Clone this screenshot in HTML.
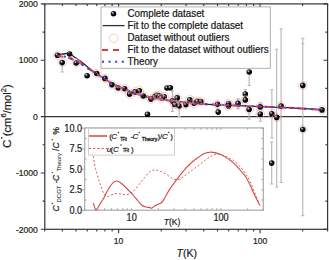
<!DOCTYPE html>
<html><head><meta charset="utf-8"><style>
html,body{margin:0;padding:0;background:#fff;}
svg{display:block;font-family:"Liberation Sans",sans-serif;}
text{font-family:"Liberation Sans",sans-serif;stroke:#222;stroke-width:0.2px;}
</style></head><body>
<svg width="329" height="260" viewBox="0 0 329 260">
<rect width="329" height="260" fill="#fff"/>
<line x1="44.8" y1="116.60" x2="327.6" y2="116.60" stroke="#363636" stroke-width="1.1"/>
<path d="M40.80,229.30H44.8M323.60,229.30H327.6M42.60,201.12H44.8M325.40,201.12H327.6M40.80,172.95H44.8M323.60,172.95H327.6M42.60,144.77H44.8M325.40,144.77H327.6M40.80,116.60H44.8M323.60,116.60H327.6M42.60,88.42H44.8M325.40,88.42H327.6M40.80,60.25H44.8M323.60,60.25H327.6M42.60,32.08H44.8M325.40,32.08H327.6M40.80,3.90H44.8M323.60,3.90H327.6M44.65,229.29999999999998V231.50M44.65,3.9000000000000057V6.10M62.33,229.29999999999998V231.50M62.33,3.9000000000000057V6.10M76.04,229.29999999999998V231.50M76.04,3.9000000000000057V6.10M87.24,229.29999999999998V231.50M87.24,3.9000000000000057V6.10M96.71,229.29999999999998V231.50M96.71,3.9000000000000057V6.10M104.91,229.29999999999998V231.50M104.91,3.9000000000000057V6.10M112.15,229.29999999999998V231.50M112.15,3.9000000000000057V6.10M118.62,229.29999999999998V233.30M118.62,3.9000000000000057V7.90M161.21,229.29999999999998V231.50M161.21,3.9000000000000057V6.10M186.12,229.29999999999998V231.50M186.12,3.9000000000000057V6.10M203.80,229.29999999999998V231.50M203.80,3.9000000000000057V6.10M217.51,229.29999999999998V231.50M217.51,3.9000000000000057V6.10M228.71,229.29999999999998V231.50M228.71,3.9000000000000057V6.10M238.18,229.29999999999998V231.50M238.18,3.9000000000000057V6.10M246.39,229.29999999999998V231.50M246.39,3.9000000000000057V6.10M253.63,229.29999999999998V231.50M253.63,3.9000000000000057V6.10M260.10,229.29999999999998V233.30M260.10,3.9000000000000057V7.90M302.69,229.29999999999998V231.50M302.69,3.9000000000000057V6.10M327.60,229.29999999999998V231.50M327.60,3.9000000000000057V6.10" stroke="#363636" stroke-width="1.1" fill="none"/>
<path d="M62.2,62.6V72.0M60.6,72.0h3.2M172.4,91.0V100.9M170.8,91.0h3.2M172.4,100.9V111.5M170.8,111.5h3.2M179.2,106.0V116.5M177.6,116.5h3.2M217.5,104.2V109.0M215.9,109.0h3.2M238.0,98.8V103.4M236.4,98.8h3.2M238.0,103.4V108.9M236.4,108.9h3.2M245.3,89.5V94.0M243.70000000000002,89.5h3.2M249.2,72.0V85.5M247.6,85.5h3.2M249.1,109.5V119.2M247.5,119.2h3.2M260.2,102.7V106.9M258.59999999999997,102.7h3.2M260.3,114.1V121.2M258.7,121.2h3.2M271.9,89.8V113.8M270.29999999999995,89.8h3.2M271.9,113.8V138.0M270.29999999999995,138.0h3.2M276.7,49.3V117.4M275.09999999999997,49.3h3.2M276.7,117.4V187.0M275.09999999999997,187.0h3.2M281.1,29.0V106.1M279.5,29.0h3.2M281.1,106.1V182.5M279.5,182.5h3.2M271.7,142.0V163.1M270.09999999999997,142.0h3.2M271.7,163.1V184.0M270.09999999999997,184.0h3.2M302.8,38.3V85.4M301.2,38.3h3.2M302.8,43.7V129.5M301.2,43.7h3.2M302.8,129.5V215.8M301.2,215.8h3.2" stroke="#b6b6b6" stroke-width="1.1" fill="none"/>
<defs><radialGradient id="g" cx="0.36" cy="0.34" r="0.62"><stop offset="0" stop-color="#f4f4f4"/><stop offset="0.22" stop-color="#777"/><stop offset="0.45" stop-color="#111"/><stop offset="1" stop-color="#000"/></radialGradient></defs>
<circle cx="57.5" cy="55.2" r="2.8" fill="url(#g)"/>
<circle cx="62.2" cy="62.6" r="2.8" fill="url(#g)"/>
<circle cx="69.6" cy="54.0" r="2.8" fill="url(#g)"/>
<circle cx="76.2" cy="63.0" r="2.8" fill="url(#g)"/>
<circle cx="87.1" cy="75.7" r="2.8" fill="url(#g)"/>
<circle cx="96.8" cy="73.5" r="2.8" fill="url(#g)"/>
<circle cx="104.9" cy="78.4" r="2.8" fill="url(#g)"/>
<circle cx="112.0" cy="84.8" r="2.8" fill="url(#g)"/>
<circle cx="118.2" cy="88.0" r="2.8" fill="url(#g)"/>
<circle cx="124.6" cy="88.7" r="2.8" fill="url(#g)"/>
<circle cx="129.6" cy="94.1" r="2.8" fill="url(#g)"/>
<circle cx="135.0" cy="91.9" r="2.8" fill="url(#g)"/>
<circle cx="139.4" cy="90.8" r="2.8" fill="url(#g)"/>
<circle cx="143.3" cy="96.0" r="2.8" fill="url(#g)"/>
<circle cx="151.0" cy="99.1" r="2.8" fill="url(#g)"/>
<circle cx="154.8" cy="96.6" r="2.8" fill="url(#g)"/>
<circle cx="157.0" cy="95.4" r="2.8" fill="url(#g)"/>
<circle cx="159.3" cy="95.8" r="2.8" fill="url(#g)"/>
<circle cx="161.4" cy="98.0" r="2.8" fill="url(#g)"/>
<circle cx="164.2" cy="96.7" r="2.8" fill="url(#g)"/>
<circle cx="147.5" cy="114.3" r="2.8" fill="url(#g)"/>
<circle cx="167.0" cy="88.0" r="2.8" fill="url(#g)"/>
<circle cx="170.3" cy="87.8" r="2.8" fill="url(#g)"/>
<circle cx="172.4" cy="100.9" r="2.8" fill="url(#g)"/>
<circle cx="177.2" cy="97.9" r="2.8" fill="url(#g)"/>
<circle cx="174.7" cy="104.4" r="2.8" fill="url(#g)"/>
<circle cx="179.2" cy="106.0" r="2.8" fill="url(#g)"/>
<circle cx="185.8" cy="104.7" r="2.8" fill="url(#g)"/>
<circle cx="189.8" cy="99.8" r="2.8" fill="url(#g)"/>
<circle cx="194.0" cy="103.2" r="2.8" fill="url(#g)"/>
<circle cx="197.2" cy="101.3" r="2.8" fill="url(#g)"/>
<circle cx="200.8" cy="101.5" r="2.8" fill="url(#g)"/>
<circle cx="217.5" cy="104.2" r="2.8" fill="url(#g)"/>
<circle cx="218.2" cy="112.1" r="2.8" fill="url(#g)"/>
<circle cx="228.6" cy="103.6" r="2.8" fill="url(#g)"/>
<circle cx="228.5" cy="105.9" r="2.8" fill="url(#g)"/>
<circle cx="238.0" cy="103.4" r="2.8" fill="url(#g)"/>
<circle cx="245.3" cy="94.0" r="2.8" fill="url(#g)"/>
<circle cx="245.3" cy="99.9" r="2.8" fill="url(#g)"/>
<circle cx="249.2" cy="72.0" r="2.8" fill="url(#g)"/>
<circle cx="249.1" cy="109.5" r="2.8" fill="url(#g)"/>
<circle cx="260.2" cy="106.9" r="2.8" fill="url(#g)"/>
<circle cx="260.3" cy="114.1" r="2.8" fill="url(#g)"/>
<circle cx="271.9" cy="113.8" r="2.8" fill="url(#g)"/>
<circle cx="276.7" cy="117.4" r="2.8" fill="url(#g)"/>
<circle cx="281.1" cy="106.1" r="2.8" fill="url(#g)"/>
<circle cx="271.7" cy="163.1" r="2.8" fill="url(#g)"/>
<circle cx="302.8" cy="85.4" r="2.8" fill="url(#g)"/>
<circle cx="302.8" cy="129.5" r="2.8" fill="url(#g)"/>
<circle cx="322.0" cy="109.9" r="2.8" fill="url(#g)"/>
<path d="M57.4,54.9C58.33,54.75 61.07,54.22 63,54.0C64.93,53.78 67.17,53.13 69,53.6C70.83,54.07 72.28,55.68 74,56.8C75.72,57.92 77.20,58.73 79.3,60.3C81.40,61.87 84.17,64.28 86.6,66.2C89.03,68.12 91.67,70.18 93.9,71.8C96.13,73.42 98.27,74.77 100,75.9C101.73,77.03 102.52,77.48 104.3,78.6C106.08,79.72 108.72,81.43 110.7,82.6C112.68,83.77 114.37,84.70 116.2,85.6C118.03,86.50 119.73,87.17 121.7,88.0C123.67,88.83 125.78,89.72 128,90.6C130.22,91.48 132.67,92.48 135,93.3C137.33,94.12 139.50,94.83 142,95.5C144.50,96.17 147.00,96.70 150,97.3C153.00,97.90 156.67,98.53 160,99.1C163.33,99.67 166.67,100.23 170,100.7C173.33,101.17 176.67,101.53 180,101.9C183.33,102.27 186.67,102.58 190,102.9C193.33,103.22 195.83,103.50 200,103.8C204.17,104.10 210.00,104.45 215,104.7C220.00,104.95 225.00,105.10 230,105.3C235.00,105.50 240.00,105.68 245,105.9C250.00,106.12 254.17,106.35 260,106.6C265.83,106.85 273.33,107.10 280,107.4C286.67,107.70 293.08,108.00 300,108.4C306.92,108.80 317.92,109.57 321.5,109.8" stroke="#222" stroke-width="1.3" fill="none"/>
<path d="M57.4,56.0C58.62,56.15 62.27,56.37 64.7,56.9C67.13,57.43 69.57,58.27 72,59.2C74.43,60.13 76.87,61.17 79.3,62.5C81.73,63.83 84.17,65.58 86.6,67.2C89.03,68.82 91.67,70.72 93.9,72.2C96.13,73.68 98.27,75.03 100,76.1C101.73,77.17 102.52,77.52 104.3,78.6C106.08,79.68 108.72,81.43 110.7,82.6C112.68,83.77 114.37,84.70 116.2,85.6C118.03,86.50 119.73,87.17 121.7,88.0C123.67,88.83 125.78,89.72 128,90.6C130.22,91.48 132.67,92.48 135,93.3C137.33,94.12 139.50,94.83 142,95.5C144.50,96.17 147.00,96.70 150,97.3C153.00,97.90 156.67,98.53 160,99.1C163.33,99.67 166.67,100.23 170,100.7C173.33,101.17 176.67,101.53 180,101.9C183.33,102.27 186.67,102.58 190,102.9C193.33,103.22 195.83,103.50 200,103.8C204.17,104.10 210.00,104.45 215,104.7C220.00,104.95 225.00,105.10 230,105.3C235.00,105.50 240.00,105.68 245,105.9C250.00,106.12 254.17,106.35 260,106.6C265.83,106.85 273.33,107.10 280,107.4C286.67,107.70 293.08,108.00 300,108.4C306.92,108.80 317.92,109.57 321.5,109.8" stroke="#dc3a3a" stroke-width="2" fill="none" stroke-dasharray="6 5"/>
<path d="M57.4,56.0C57.83,56.03 58.88,56.10 60,56.2C61.12,56.30 62.40,56.33 64.1,56.6C65.80,56.87 68.17,57.07 70.2,57.8C72.23,58.53 74.33,59.85 76.3,61C78.27,62.15 80.12,63.50 82,64.7C83.88,65.90 85.78,67.05 87.6,68.2C89.42,69.35 90.83,70.30 92.9,71.6C94.97,72.90 98.10,74.83 100,76.0C101.90,77.17 102.52,77.50 104.3,78.6C106.08,79.70 108.72,81.43 110.7,82.6C112.68,83.77 114.37,84.70 116.2,85.6C118.03,86.50 119.73,87.17 121.7,88.0C123.67,88.83 125.78,89.72 128,90.6C130.22,91.48 132.67,92.48 135,93.3C137.33,94.12 139.50,94.83 142,95.5C144.50,96.17 147.00,96.70 150,97.3C153.00,97.90 156.67,98.53 160,99.1C163.33,99.67 166.67,100.23 170,100.7C173.33,101.17 176.67,101.53 180,101.9C183.33,102.27 186.67,102.58 190,102.9C193.33,103.22 195.83,103.50 200,103.8C204.17,104.10 210.00,104.45 215,104.7C220.00,104.95 225.00,105.10 230,105.3C235.00,105.50 240.00,105.68 245,105.9C250.00,106.12 254.17,106.35 260,106.6C265.83,106.85 273.33,107.10 280,107.4C286.67,107.70 293.08,108.00 300,108.4C306.92,108.80 317.92,109.57 321.5,109.8" stroke="#3a3af0" stroke-width="2" fill="none" stroke-dasharray="2 4.6"/>
<circle cx="57.5" cy="55.2" r="4.25" fill="none" stroke="#efa4a4" stroke-width="0.55"/>
<circle cx="62.2" cy="62.6" r="4.25" fill="none" stroke="#efa4a4" stroke-width="0.55"/>
<circle cx="76.2" cy="63.0" r="4.25" fill="none" stroke="#efa4a4" stroke-width="0.55"/>
<circle cx="96.8" cy="73.5" r="4.25" fill="none" stroke="#efa4a4" stroke-width="0.55"/>
<circle cx="104.9" cy="78.4" r="4.25" fill="none" stroke="#efa4a4" stroke-width="0.55"/>
<circle cx="112.0" cy="84.8" r="4.25" fill="none" stroke="#efa4a4" stroke-width="0.55"/>
<circle cx="118.2" cy="88.0" r="4.25" fill="none" stroke="#efa4a4" stroke-width="0.55"/>
<circle cx="124.6" cy="88.7" r="4.25" fill="none" stroke="#efa4a4" stroke-width="0.55"/>
<circle cx="129.6" cy="94.1" r="4.25" fill="none" stroke="#efa4a4" stroke-width="0.55"/>
<circle cx="135.0" cy="91.9" r="4.25" fill="none" stroke="#efa4a4" stroke-width="0.55"/>
<circle cx="139.4" cy="90.8" r="4.25" fill="none" stroke="#efa4a4" stroke-width="0.55"/>
<circle cx="143.3" cy="96.0" r="4.25" fill="none" stroke="#efa4a4" stroke-width="0.55"/>
<circle cx="151.0" cy="99.1" r="4.25" fill="none" stroke="#efa4a4" stroke-width="0.55"/>
<circle cx="154.8" cy="96.6" r="4.25" fill="none" stroke="#efa4a4" stroke-width="0.55"/>
<circle cx="157.0" cy="95.4" r="4.25" fill="none" stroke="#efa4a4" stroke-width="0.55"/>
<circle cx="159.3" cy="95.8" r="4.25" fill="none" stroke="#efa4a4" stroke-width="0.55"/>
<circle cx="161.4" cy="98.0" r="4.25" fill="none" stroke="#efa4a4" stroke-width="0.55"/>
<circle cx="164.2" cy="96.7" r="4.25" fill="none" stroke="#efa4a4" stroke-width="0.55"/>
<circle cx="172.4" cy="100.9" r="4.25" fill="none" stroke="#efa4a4" stroke-width="0.55"/>
<circle cx="177.2" cy="97.9" r="4.25" fill="none" stroke="#efa4a4" stroke-width="0.55"/>
<circle cx="174.7" cy="104.4" r="4.25" fill="none" stroke="#efa4a4" stroke-width="0.55"/>
<circle cx="179.2" cy="106.0" r="4.25" fill="none" stroke="#efa4a4" stroke-width="0.55"/>
<circle cx="185.8" cy="104.7" r="4.25" fill="none" stroke="#efa4a4" stroke-width="0.55"/>
<circle cx="189.8" cy="99.8" r="4.25" fill="none" stroke="#efa4a4" stroke-width="0.55"/>
<circle cx="194.0" cy="103.2" r="4.25" fill="none" stroke="#efa4a4" stroke-width="0.55"/>
<circle cx="197.2" cy="101.3" r="4.25" fill="none" stroke="#efa4a4" stroke-width="0.55"/>
<circle cx="200.8" cy="101.5" r="4.25" fill="none" stroke="#efa4a4" stroke-width="0.55"/>
<circle cx="217.5" cy="104.2" r="4.25" fill="none" stroke="#efa4a4" stroke-width="0.55"/>
<circle cx="228.6" cy="103.6" r="4.25" fill="none" stroke="#efa4a4" stroke-width="0.55"/>
<circle cx="228.5" cy="105.9" r="4.25" fill="none" stroke="#efa4a4" stroke-width="0.55"/>
<circle cx="238.0" cy="103.4" r="4.25" fill="none" stroke="#efa4a4" stroke-width="0.55"/>
<circle cx="245.3" cy="99.9" r="4.25" fill="none" stroke="#efa4a4" stroke-width="0.55"/>
<circle cx="249.1" cy="109.5" r="4.25" fill="none" stroke="#efa4a4" stroke-width="0.55"/>
<circle cx="260.2" cy="106.9" r="4.25" fill="none" stroke="#efa4a4" stroke-width="0.55"/>
<circle cx="260.3" cy="114.1" r="4.25" fill="none" stroke="#efa4a4" stroke-width="0.55"/>
<circle cx="271.9" cy="113.8" r="4.25" fill="none" stroke="#efa4a4" stroke-width="0.55"/>
<circle cx="276.7" cy="117.4" r="4.25" fill="none" stroke="#efa4a4" stroke-width="0.55"/>
<circle cx="281.1" cy="106.1" r="4.25" fill="none" stroke="#efa4a4" stroke-width="0.55"/>
<circle cx="302.8" cy="85.4" r="4.25" fill="none" stroke="#efa4a4" stroke-width="0.55"/>
<circle cx="302.8" cy="129.5" r="4.25" fill="none" stroke="#efa4a4" stroke-width="0.55"/>
<circle cx="322.0" cy="109.9" r="4.25" fill="none" stroke="#efa4a4" stroke-width="0.55"/>
<rect x="44.8" y="3.9000000000000057" width="282.80" height="225.40" fill="none" stroke="#363636" stroke-width="1.2"/>
<text transform="translate(37.9,7.10) scale(1,1.16)" text-anchor="end" font-size="8.6" fill="#222">2000</text>
<text transform="translate(37.9,63.45) scale(1,1.16)" text-anchor="end" font-size="8.6" fill="#222">1000</text>
<text transform="translate(37.9,119.80) scale(1,1.16)" text-anchor="end" font-size="8.6" fill="#222">0</text>
<text transform="translate(37.9,176.15) scale(1,1.16)" text-anchor="end" font-size="8.6" fill="#222">-1000</text>
<text transform="translate(37.9,232.50) scale(1,1.16)" text-anchor="end" font-size="8.6" fill="#222">-2000</text>
<text transform="translate(118.62,243.6) scale(1,1.14)" text-anchor="middle" font-size="8.6" fill="#222">10</text>
<text transform="translate(260.10,243.6) scale(1,1.14)" text-anchor="middle" font-size="8.6" fill="#222">100</text>
<text x="176.6" y="256.5" font-size="10.5" fill="#222"><tspan font-style="italic">T</tspan>(K)</text>
<g transform="translate(10.8,147.8) rotate(-90)"><text x="-0.2" y="0" font-size="11.8" fill="#222">C</text><circle cx="9.9" cy="-9.1" r="0.8" fill="#222"/><text x="11.6" y="0" font-size="11.2" fill="#222">(cm<tspan font-size="7.5" dy="-4.5">6</tspan><tspan dy="4.5">/mol</tspan><tspan font-size="7.5" dy="-4.5">2</tspan><tspan dy="4.5">)</tspan></text></g>
<rect x="101" y="6.9" width="169.3" height="61.4" fill="#fff" stroke="#a8a8a8" stroke-width="0.9"/>
<circle cx="113.5" cy="13.8" r="2.75" fill="url(#g)"/>
<line x1="102.6" y1="25.6" x2="124.6" y2="25.6" stroke="#333" stroke-width="1.3"/>
<circle cx="113.7" cy="38.2" r="4.25" fill="none" stroke="#efa4a4" stroke-width="0.55"/>
<line x1="102" y1="50" x2="119.5" y2="50" stroke="#dc3a3a" stroke-width="2" stroke-dasharray="6 5"/>
<line x1="102" y1="61.8" x2="125" y2="61.8" stroke="#3a3af0" stroke-width="2" stroke-dasharray="2 4.6"/>
<text transform="translate(127.5,17.35) scale(1,1.09)" font-size="9.8" fill="#111">Complete dataset</text>
<text transform="translate(127.5,29.32) scale(1,1.09)" font-size="9.8" fill="#111">Fit to the complete dataset</text>
<text transform="translate(127.5,41.29) scale(1,1.09)" font-size="9.8" fill="#111">Dataset without outliers</text>
<text transform="translate(127.5,53.26) scale(1,1.09)" font-size="9.8" fill="#111">Fit to the dataset without outliers</text>
<text transform="translate(127.5,65.23) scale(1,1.09)" font-size="9.8" fill="#111">Theory</text>
<rect x="84.7" y="127.9" width="178.60" height="82.30" fill="#fff"/>
<path d="M81.70,210.30H84.7M261.30,210.30H263.3M84.7,200.04H86.70M261.30,200.04H263.3M81.70,189.78H84.7M261.30,189.78H263.3M84.7,179.51H86.70M261.30,179.51H263.3M81.70,169.25H84.7M261.30,169.25H263.3M84.7,158.99H86.70M261.30,158.99H263.3M81.70,148.73H84.7M261.30,148.73H263.3M84.7,138.46H86.70M261.30,138.46H263.3M81.70,128.20H84.7M261.30,128.20H263.3M84.70,210.2V208.20M84.70,127.9V129.90M95.86,210.2V208.20M95.86,127.9V129.90M104.52,210.2V208.20M104.52,127.9V129.90M111.60,210.2V208.20M111.60,127.9V129.90M117.58,210.2V208.20M117.58,127.9V129.90M122.76,210.2V208.20M122.76,127.9V129.90M127.33,210.2V208.20M127.33,127.9V129.90M131.42,210.2V208.20M131.42,127.9V129.90M158.32,210.2V208.20M158.32,127.9V129.90M174.05,210.2V208.20M174.05,127.9V129.90M185.21,210.2V208.20M185.21,127.9V129.90M193.87,210.2V208.20M193.87,127.9V129.90M200.95,210.2V208.20M200.95,127.9V129.90M206.93,210.2V208.20M206.93,127.9V129.90M212.11,210.2V208.20M212.11,127.9V129.90M216.68,210.2V208.20M216.68,127.9V129.90M220.77,210.2V208.20M220.77,127.9V129.90M247.67,210.2V208.20M247.67,127.9V129.90M263.40,210.2V208.20M263.40,127.9V129.90" stroke="#a2a2a2" stroke-width="0.9" fill="none"/>
<rect x="84.7" y="127.9" width="178.60" height="82.30" fill="none" stroke="#a2a2a2" stroke-width="1.1"/>
<path d="M93.3,203C93.75,204.13 94.88,209.63 96,209.8C97.12,209.97 98.75,205.88 100,204C101.25,202.12 102.42,200.40 103.5,198.5C104.58,196.60 105.47,194.52 106.5,192.6C107.53,190.68 108.63,188.62 109.7,187C110.77,185.38 111.82,183.90 112.9,182.9C113.98,181.90 115.12,181.15 116.2,181C117.28,180.85 118.33,181.42 119.4,182C120.47,182.58 121.38,183.42 122.6,184.5C123.82,185.58 125.35,187.17 126.7,188.5C128.05,189.83 129.48,191.25 130.7,192.5C131.92,193.75 132.78,194.58 134,196C135.22,197.42 136.67,199.45 138,201C139.33,202.55 140.67,204.30 142,205.3C143.33,206.30 144.67,206.62 146,207C147.33,207.38 149.07,207.40 150,207.6C150.93,207.80 150.77,208.50 151.6,208.2C152.43,207.90 153.93,206.47 155,205.8C156.07,205.13 157.00,204.67 158,204.2C159.00,203.73 160.03,203.77 161,203C161.97,202.23 162.37,201.87 163.8,199.6C165.23,197.33 167.35,192.87 169.6,189.4C171.85,185.93 174.73,182.17 177.3,178.8C179.87,175.43 182.43,172.08 185,169.2C187.57,166.32 190.45,163.48 192.7,161.5C194.95,159.52 196.58,158.63 198.5,157.3C200.42,155.97 202.35,154.35 204.2,153.5C206.05,152.65 207.80,152.35 209.6,152.2C211.40,152.05 213.20,152.20 215,152.6C216.80,153.00 218.60,153.80 220.4,154.6C222.20,155.40 224.00,156.33 225.8,157.4C227.60,158.47 229.67,159.85 231.2,161C232.73,162.15 233.52,162.80 235,164.3C236.48,165.80 238.35,167.97 240.1,170C241.85,172.03 243.87,174.07 245.5,176.5C247.13,178.93 248.43,181.60 249.9,184.6C251.37,187.60 252.65,191.03 254.3,194.5C255.95,197.97 258.88,203.58 259.8,205.4" stroke="#d84848" stroke-width="1.1" fill="none"/>
<path d="M93.2,156C93.58,158.08 94.52,164.42 95.5,168.5C96.48,172.58 98.08,177.25 99.1,180.5C100.12,183.75 100.78,185.75 101.6,188C102.42,190.25 103.05,192.58 104,194C104.95,195.42 106.08,196.33 107.3,196.5C108.52,196.67 109.82,195.52 111.3,195C112.78,194.48 114.58,193.57 116.2,193.4C117.82,193.23 119.47,193.77 121,194C122.53,194.23 124.00,194.82 125.4,194.8C126.80,194.78 128.28,194.30 129.4,193.9C130.52,193.50 131.00,193.30 132.1,192.4C133.20,191.50 134.52,190.23 136,188.5C137.48,186.77 139.33,184.08 141,182C142.67,179.92 144.50,177.75 146,176C147.50,174.25 148.67,172.50 150,171.5C151.33,170.50 152.83,170.22 154,170C155.17,169.78 156.00,170.00 157,170.2C158.00,170.40 158.53,170.57 160,171.2C161.47,171.83 163.88,172.88 165.8,174C167.72,175.12 169.58,176.93 171.5,177.9C173.42,178.87 175.37,179.97 177.3,179.8C179.23,179.63 180.85,178.33 183.1,176.9C185.35,175.47 188.23,173.12 190.8,171.2C193.37,169.28 195.88,167.40 198.5,165.4C201.12,163.40 204.27,160.80 206.5,159.2C208.73,157.60 210.10,156.70 211.9,155.8C213.70,154.90 215.50,153.90 217.3,153.8C219.10,153.70 220.90,154.58 222.7,155.2C224.50,155.82 226.30,156.62 228.1,157.5C229.90,158.38 231.52,159.00 233.5,160.5C235.48,162.00 238.00,164.33 240,166.5C242.00,168.67 243.85,171.03 245.5,173.5C247.15,175.97 248.07,177.43 249.9,181.3C251.73,185.17 254.85,192.68 256.5,196.7C258.15,200.72 259.25,203.95 259.8,205.4" stroke="#d84848" stroke-width="0.9" fill="none" stroke-dasharray="2 2"/>
<rect x="88.4" y="128.6" width="86" height="26.5" fill="#fff" stroke="#c4c4c4" stroke-width="0.8"/>
<line x1="88.9" y1="136" x2="107" y2="136" stroke="#dc5a5a" stroke-width="1.7"/>
<line x1="88.9" y1="148.4" x2="107" y2="148.4" stroke="#d84848" stroke-width="1" stroke-dasharray="2.3 1.9"/>
<text x="109.3" y="139.2" font-size="8" fill="#222">(</text>
<text x="111.3" y="139.2" font-size="8" fill="#222" font-style="italic">C</text>
<circle cx="118.4" cy="132.5" r="0.75" fill="#333"/>
<text x="120.2" y="141.0" font-size="4.6" fill="#222" textLength="6.6" lengthAdjust="spacingAndGlyphs" style="stroke-width:0.3px">TFit</text>
<text x="130.8" y="139.2" font-size="8" fill="#222">-</text>
<text x="132.6" y="139.2" font-size="8" fill="#222" font-style="italic">C</text>
<circle cx="139.2" cy="132.5" r="0.75" fill="#333"/>
<text x="141.7" y="141.0" font-size="5" fill="#222" textLength="15.5" lengthAdjust="spacingAndGlyphs" style="stroke-width:0.3px">Theory</text>
<text x="157.4" y="139.2" font-size="8" fill="#222">)/</text>
<text x="161.9" y="139.2" font-size="8" fill="#222" font-style="italic">C</text>
<circle cx="168.8" cy="132.5" r="0.75" fill="#333"/>
<text x="170.2" y="139.2" font-size="8" fill="#222">)</text>
<text x="106.8" y="151.6" font-size="8" fill="#222" font-style="italic">u</text>
<text x="110.4" y="151.6" font-size="8" fill="#222">(</text>
<text x="113.0" y="151.6" font-size="8" fill="#222" font-style="italic">C</text>
<circle cx="121.0" cy="145.0" r="0.75" fill="#333"/>
<text x="123.0" y="152.4" font-size="4.6" fill="#222" textLength="5.9" lengthAdjust="spacingAndGlyphs" style="stroke-width:0.3px">TFit</text>
<text x="131.0" y="151.6" font-size="8" fill="#222">)</text>
<text transform="translate(82.2,213.60) scale(1,1.15)" text-anchor="end" font-size="9.2" fill="#222">0.0</text>
<text transform="translate(82.2,193.08) scale(1,1.15)" text-anchor="end" font-size="9.2" fill="#222">2.5</text>
<text transform="translate(82.2,172.55) scale(1,1.15)" text-anchor="end" font-size="9.2" fill="#222">5.0</text>
<text transform="translate(82.2,152.03) scale(1,1.15)" text-anchor="end" font-size="9.2" fill="#222">7.5</text>
<text transform="translate(82.2,131.50) scale(1,1.15)" text-anchor="end" font-size="9.2" fill="#222">10.0</text>
<text transform="translate(131.72,221.3) scale(1,1.15)" text-anchor="middle" font-size="9.2" fill="#222">10</text>
<text transform="translate(221.07,221.3) scale(1,1.15)" text-anchor="middle" font-size="9.2" fill="#222">100</text>
<text x="163.8" y="224.5" font-size="8.5" fill="#222"><tspan font-style="italic">T</tspan>(K)</text>
<g transform="translate(59.4,211.6) rotate(-90)"><text x="0.0" y="0" font-size="8.6" fill="#222" font-style="italic">C</text><circle cx="8.1" cy="-7.2" r="0.7" fill="#222"/><text x="9.1" y="1.6" font-size="6" fill="#222" style="stroke-width:0.05px">DCGT</text><text x="28.4" y="0" font-size="8.2" fill="#222">-</text><text x="30.7" y="0" font-size="8.6" fill="#222" font-style="italic">C</text><circle cx="39.0" cy="-7.2" r="0.7" fill="#222"/><text x="40.0" y="1.6" font-size="6" fill="#222" style="stroke-width:0.05px">Theory</text><text x="60.6" y="0" font-size="8.2" fill="#222">/</text><text x="63.2" y="0" font-size="8.6" fill="#222" font-style="italic">C</text><circle cx="71.8" cy="-7.2" r="0.7" fill="#222"/><text x="77.0" y="0" font-size="8.4" fill="#222">%</text></g>
</svg></body></html>
